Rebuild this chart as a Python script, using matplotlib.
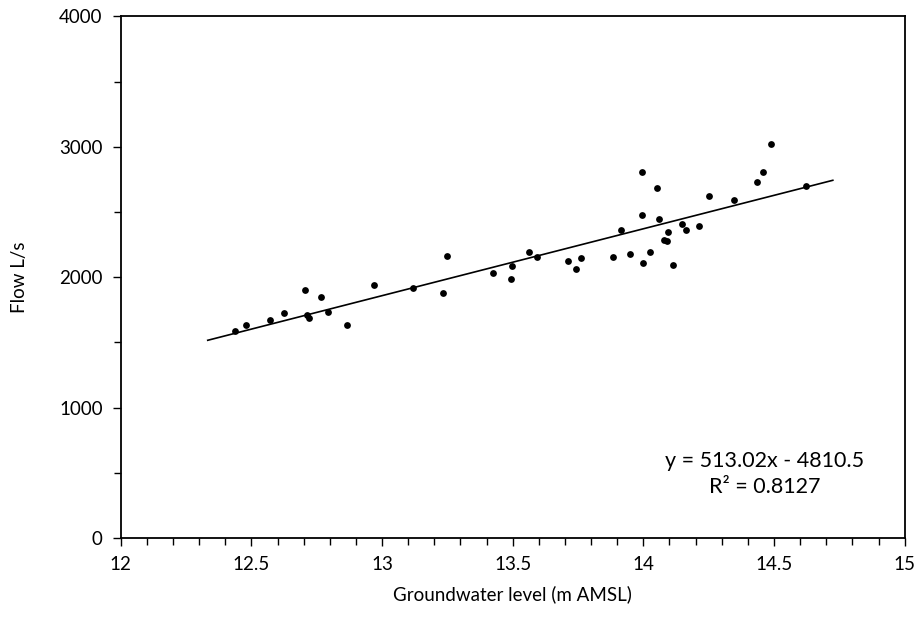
import matplotlib
matplotlib.use("Agg")
import matplotlib.pyplot as plt
from matplotlib.ticker import MultipleLocator
import numpy as np

plt.rcParams['font.family'] = ['Lato', 'DejaVu Sans']

groundwater_level = [12.436, 12.479, 12.570, 12.624, 12.707, 12.714, 12.722, 12.766, 12.793, 12.864,
                     12.971, 13.119, 13.232, 13.247, 13.426, 13.496, 13.494, 13.562, 13.592, 13.713,
                     13.744, 13.763, 13.883, 13.913, 13.950, 13.994, 13.994, 14.000, 14.027, 14.054,
                     14.061, 14.079, 14.092, 14.096, 14.115, 14.146, 14.165, 14.212, 14.250, 14.345,
                     14.433, 14.459, 14.490, 14.621]
flow = [1589, 1635, 1671, 1725, 1906, 1712, 1684, 1845, 1733, 1633,
        1937, 1914, 1883, 2165, 2035, 2088, 1983, 2196, 2157, 2127,
        2065, 2150, 2157, 2362, 2180, 2474, 2810, 2111, 2196, 2687,
        2447, 2288, 2280, 2347, 2096, 2405, 2362, 2390, 2620, 2590,
        2728, 2810, 3023, 2697]

slope = 513.02
intercept = -4810.5
r_squared = 0.8127
trend_x_range = [12.333, 14.725]

fig = plt.figure(figsize=(9.18, 6.37), dpi=100)
ax = fig.add_axes([0.1315, 0.1554, 0.8540, 0.8187])

ax.scatter(groundwater_level, flow, s=24, color='black', zorder=3, linewidths=0)
tx = np.array(trend_x_range)
ax.plot(tx, slope * tx + intercept, color='black', linewidth=1.2, zorder=2)

ax.set_xlim(12, 15)
ax.set_ylim(0, 4000)
ax.xaxis.set_major_locator(MultipleLocator(0.5))
ax.xaxis.set_minor_locator(MultipleLocator(0.1))
ax.yaxis.set_major_locator(MultipleLocator(1000))
ax.yaxis.set_minor_locator(MultipleLocator(500))
ax.set_xticks([12, 12.5, 13, 13.5, 14, 14.5, 15])
ax.set_xticklabels(['12', '12.5', '13', '13.5', '14', '14.5', '15'])
ax.tick_params(axis='both', which='major', direction='out', length=6, width=1.0,
               labelsize=13.5, pad=7)
ax.tick_params(axis='both', which='minor', direction='out', length=5, width=1.0)
for sp in ax.spines.values():
    sp.set_linewidth(1.3)
    sp.set_color('black')

ax.set_xlabel('Groundwater level (m AMSL)', fontsize=13.5, labelpad=9)
ax.set_ylabel('Flow L/s', fontsize=13.5, labelpad=22)

eq = f"y = {slope:.2f}x - {abs(intercept):.1f}\nR² = {r_squared:.4f}"
ax.text(14.464, 490, eq, ha='center', va='center', fontsize=15.5, linespacing=1.38)

fig.savefig('out.png', dpi=100, facecolor='white')
